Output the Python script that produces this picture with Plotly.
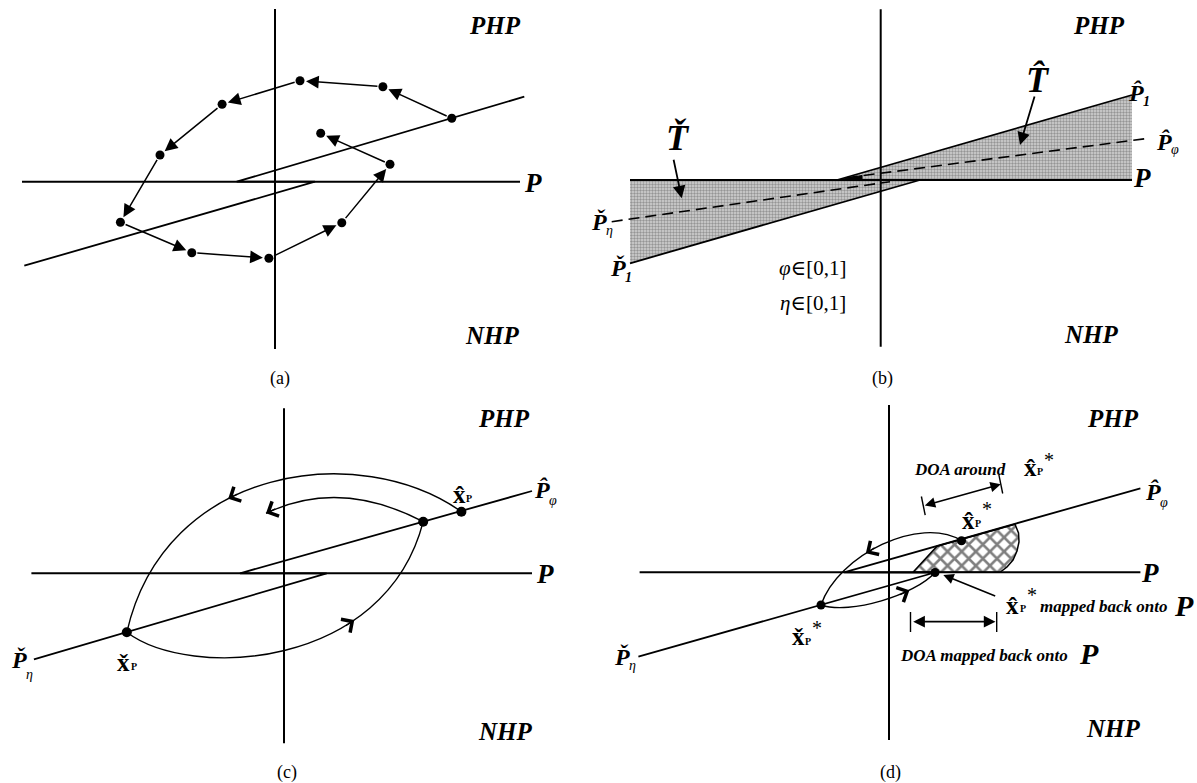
import math
import plotly.graph_objects as go

# ---------------- schematic data (canvas coordinates, y grows downward) ----------------
# Panel (a): phase portrait with a discrete trajectory
a_vaxis_x = [275, 275]; a_vaxis_y = [9, 349]
a_paxis_x = [22, 520]; a_paxis_y = [181.7, 181.7]
a_zline_x = [24.3, 315, 236.7, 524.3]; a_zline_y = [265.7, 181.7, 181.7, 96.7]
a_traj_x = [451.8, 382.9, 300, 222.1, 160, 120.4, 191.8, 268.9, 341.8, 390, 320.7]
a_traj_y = [118.3, 86.7, 80.7, 104.3, 155, 222.3, 252.7, 258.3, 222.7, 164.3, 133.3]

# Panel (b): shaded regions T-check / T-hat
b_vaxis_x = [880.7, 880.7]; b_vaxis_y = [9.3, 346.7]
b_paxis_x = [630, 1132]; b_paxis_y = [180, 180]
b_tchk_x = [630, 630, 920]; b_tchk_y = [180, 263.3, 180]
b_that_x = [837, 1132, 1132]; b_that_y = [180, 95, 180]
b_low_x = [630, 920]; b_low_y = [263.3, 180]
b_up_x = [837, 1132]; b_up_y = [180, 95]
b_eta_x = [611.7, 890]; b_eta_y = [221.7, 181.7]
b_phi_x = [846.7, 1148.3]; b_phi_y = [177.7, 138.3]
b_wedge_x = [838, 862, 862]; b_wedge_y = [180, 175.5, 180]

# Panel (c): orbits between x-check and x-hat (Bezier control points)
c_vaxis_x = [284, 284]; c_vaxis_y = [408.3, 743.3]
c_paxis_x = [31.4, 532]; c_paxis_y = [573.3, 573.3]
c_zline_x = [33.9, 326.7, 240, 532]; c_zline_y = [659.3, 573.3, 573.3, 491]
c_dots_x = [126.8, 423.2, 461.4]; c_dots_y = [632.3, 521.7, 511.7]
c_outer_x = [126.8, 165, 360, 461.4]; c_outer_y = [632.3, 465, 440, 511.7]
c_inner_x = [126.8, 190, 385, 423.2]; c_inner_y = [632.3, 680, 670, 521.7]
c_ret_x = [423.2, 340, 266]; c_ret_y = [521.7, 478, 513.3]

# Panel (d): domain of attraction
d_vaxis_x = [889, 889]; d_vaxis_y = [405, 740]
d_paxis_x = [639.6, 1140.4]; d_paxis_y = [572.3, 572.3]
d_zline_x = [638.4, 935, 844, 1140.4]; d_zline_y = [656.7, 572.5, 572.3, 488.3]
d_dots_x = [821, 961.5, 935]; d_dots_y = [605, 540.7, 572.5]
d_outer_x = [821, 838, 920, 961.5]; d_outer_y = [605, 555, 515, 540.7]
d_inner_x = [821, 850, 915, 935]; d_inner_y = [605, 615, 595, 572.5]
d_doa_x = [913, 937, 1015, 1018.5, 1019, 1017, 1013, 1007, 1000]
d_doa_y = [572.3, 546.2, 524.2, 533, 542, 551, 560, 567, 572.3]
d_around_x = [923.3, 1000.8]; d_around_y = [505.8, 484.2]
d_around_tick1_x = [921.4, 925.2]; d_around_tick1_y = [496.5, 515.1]
d_around_tick2_x = [998.9, 1002.7]; d_around_tick2_y = [474.9, 493.5]
d_mapped_x = [911.7, 995.5]; d_mapped_y = [621.7, 621.7]
d_mapped_tick1_x = [910.5, 910.5]; d_mapped_tick1_y = [612, 632]
d_mapped_tick2_x = [996.7, 996.7]; d_mapped_tick2_y = [612, 632]
d_pointer_x = [996.7, 943.3]; d_pointer_y = [596.7, 575]

FONT = "Liberation Serif, Times New Roman, DejaVu Serif, serif"
HAT, CHECK = "\u0302", "\u030C"

fig = go.Figure()
ann = []
shapes = []


def add_line(xs, ys, w=2.0, dash=None):
    ln = dict(color="black", width=w)
    if dash:
        ln["dash"] = dash
    fig.add_trace(go.Scatter(x=xs, y=ys, mode="lines", line=ln, hoverinfo="skip"))


def add_fill(xs, ys, pattern=None, color="rgba(0,0,0,0)", lw=0.0):
    kw = dict(x=list(xs) + [xs[0]], y=list(ys) + [ys[0]], mode="lines", fill="toself",
              fillcolor=color, line=dict(color="black", width=lw), hoverinfo="skip")
    if pattern:
        kw["fillpattern"] = pattern
    fig.add_trace(go.Scatter(**kw))


def add_dots(xs, ys, size=9):
    fig.add_trace(go.Scatter(x=xs, y=ys, mode="markers",
                             marker=dict(color="black", size=size), hoverinfo="skip"))


def add_curve(xs, ys, w=1.4):
    if len(xs) == 4:
        p = "M{},{} C{},{} {},{} {},{}".format(xs[0], ys[0], xs[1], ys[1], xs[2], ys[2], xs[3], ys[3])
    else:
        p = "M{},{} Q{},{} {},{}".format(xs[0], ys[0], xs[1], ys[1], xs[2], ys[2])
    shapes.append(dict(type="path", path=p, xref="x", yref="y",
                       line=dict(color="black", width=w), fillcolor="rgba(0,0,0,0)"))


def bez(xs, ys, t):
    """point and derivative of the cubic Bezier defined by the control points"""
    u = 1 - t
    b = [u ** 3, 3 * u * u * t, 3 * u * t * t, t ** 3]
    d = [-3 * u * u, 3 * u * u - 6 * u * t, 6 * u * t - 3 * t * t, 3 * t * t]
    px = sum(bi * x for bi, x in zip(b, xs)); py = sum(bi * y for bi, y in zip(b, ys))
    dx = sum(di * x for di, x in zip(d, xs)); dy = sum(di * y for di, y in zip(d, ys))
    return px, py, dx, dy


def arrow(x0, y0, x1, y1, head=2, size=1.5, w=1.5, both=False, s=0, ss=0):
    ann.append(dict(x=x1, y=y1, ax=x0, ay=y0, xref="x", yref="y", axref="x", ayref="y",
                    text="", showarrow=True, arrowhead=head, arrowsize=size, arrowwidth=w,
                    arrowcolor="black", arrowside="end+start" if both else "end",
                    startarrowhead=head, startarrowsize=size, standoff=s, startstandoff=ss))


def chevron_dir(hx, hy, dx, dy, size=2.4, w=1.3, L=12):
    n = math.hypot(dx, dy)
    ux, uy = dx / n, dy / n
    arrow(hx - L * ux, hy - L * uy, hx, hy, head=4, size=size, w=w)


def chevron(xs, ys, t, reverse=False):
    px, py, dx, dy = bez(xs, ys, t)
    if reverse:
        dx, dy = -dx, -dy
    chevron_dir(px, py, dx, dy)


def lab(x, y, s, size, b=False, i=False, xa="center"):
    if i:
        s = "<i>" + s + "</i>"
    if b:
        s = "<b>" + s + "</b>"
    ann.append(dict(x=x, y=y, xref="x", yref="y", text=s, showarrow=False,
                    font=dict(family=FONT, size=size, color="black"),
                    xanchor=xa, yanchor="middle", borderpad=0, borderwidth=0))


def pname(xl, y, mark, sub, sy, sub_bold=False, size=24, subsize=14):
    """bold italic P with a combining accent, followed by its subscript"""
    lab(xl, y, "P" + mark, size, b=True, i=True, xa="left")
    lab(xl + 0.611 * size + 0.8, sy, sub, subsize, b=sub_bold, i=True, xa="left")


def xname(xl, y, mark, with_star=False, size=25, sy=None, stary=None):
    lab(xl, y, "x" + mark, size, b=True, xa="left")
    sx = xl + 0.5 * size + 1.0
    lab(sx, sy, "P", 10, b=True, xa="left")
    if with_star:
        lab(sx + 6.1 + 1.0, stary + 5, "*", 20, xa="left")


# ---------------- panel (a) ----------------
add_line(a_vaxis_x, a_vaxis_y)
add_line(a_paxis_x, a_paxis_y)
add_line(a_zline_x, a_zline_y, w=1.8)
add_dots(a_traj_x, a_traj_y, size=9)
for k in range(len(a_traj_x) - 1):
    arrow(a_traj_x[k], a_traj_y[k], a_traj_x[k + 1], a_traj_y[k + 1],
          head=2, size=1.7, w=1.5, s=6, ss=4)
lab(495, 25, "PHP", 25, b=True, i=True)
lab(492, 335, "NHP", 25, b=True, i=True)
lab(533, 183, "P", 27, b=True, i=True)
lab(280, 378, "(a)", 18)

# ---------------- panel (b) ----------------
stip = dict(shape=".", fgcolor="#555555", bgcolor="#d4d4d4", size=3, solidity=0.5)
add_fill(b_tchk_x, b_tchk_y, pattern=stip)
add_fill(b_that_x, b_that_y, pattern=stip)
add_line(b_vaxis_x, b_vaxis_y)
add_line(b_paxis_x, b_paxis_y)
add_line(b_low_x, b_low_y, w=1.8)
add_line(b_up_x, b_up_y, w=1.8)
add_line(b_eta_x, b_eta_y, w=1.6, dash="11px,6px")
add_line(b_phi_x, b_phi_y, w=1.6, dash="11px,6px")
add_fill(b_wedge_x, b_wedge_y, color="black", lw=1)
arrow(673.3, 158.3, 681.7, 198.3, head=2, size=1.4, w=1.8)
arrow(1035, 95, 1020, 145, head=2, size=1.4, w=1.8)
lab(677.5, 138, "T" + CHECK, 36, b=True, i=True)
lab(1038, 80, "T" + HAT, 36, b=True, i=True)
pname(609.7, 268, CHECK, "1", 277, sub_bold=True)
pname(1127.7, 93, HAT, "1", 101, sub_bold=True)
pname(1155.7, 141.7, HAT, "φ", 149)
pname(590.7, 222, CHECK, "η", 230)
lab(812.5, 268, "<i>φ</i>∈[0,1]", 21)
lab(812.5, 302.5, "<i>η</i>∈[0,1]", 21)
lab(1098.5, 25, "PHP", 25, b=True, i=True)
lab(1091, 334, "NHP", 25, b=True, i=True)
lab(1142, 178, "P", 27, b=True, i=True)
lab(882, 378, "(b)", 18)

# ---------------- panel (c) ----------------
add_line(c_vaxis_x, c_vaxis_y)
add_line(c_paxis_x, c_paxis_y)
add_line(c_zline_x, c_zline_y, w=1.8)
add_curve(c_outer_x, c_outer_y)
add_curve(c_inner_x, c_inner_y)
add_curve(c_ret_x, c_ret_y)
add_dots(c_dots_x, c_dots_y, size=10)
chevron(c_outer_x, c_outer_y, 0.39, reverse=True)
chevron(c_inner_x, c_inner_y, 0.70)
chevron_dir(c_ret_x[2], c_ret_y[2], c_ret_x[2] - c_ret_x[1], c_ret_y[2] - c_ret_y[1])
xname(452.8, 494, HAT, sy=498)
xname(117, 662, CHECK, sy=666)
pname(533.7, 490, HAT, "φ", 500)
pname(10.6, 660, CHECK, "η", 674)
lab(503.6, 418.3, "PHP", 25, b=True, i=True)
lab(505, 731.7, "NHP", 25, b=True, i=True)
lab(544.6, 574, "P", 27, b=True, i=True)
lab(287, 772, "(c)", 18)

# ---------------- panel (d) ----------------
hatch = dict(shape="x", fgcolor="black", bgcolor="white", size=10, solidity=0.45)
add_fill(d_doa_x, d_doa_y, pattern=hatch, lw=1.5)
add_line(d_vaxis_x, d_vaxis_y)
add_line(d_paxis_x, d_paxis_y)
add_line(d_zline_x, d_zline_y, w=1.8)
add_curve(d_outer_x, d_outer_y)
add_curve(d_inner_x, d_inner_y)
add_dots(d_dots_x, d_dots_y, size=9)
chevron(d_outer_x, d_outer_y, 0.40, reverse=True)
chevron(d_inner_x, d_inner_y, 0.72)
add_line(d_around_tick1_x, d_around_tick1_y, w=1.4)
add_line(d_around_tick2_x, d_around_tick2_y, w=1.4)
arrow(d_around_x[0], d_around_y[0], d_around_x[1], d_around_y[1], head=2, size=1.3, w=1.6, both=True)
add_line(d_mapped_tick1_x, d_mapped_tick1_y, w=1.4)
add_line(d_mapped_tick2_x, d_mapped_tick2_y, w=1.4)
arrow(d_mapped_x[0], d_mapped_y[0], d_mapped_x[1], d_mapped_y[1], head=2, size=1.3, w=1.8, both=True)
arrow(d_pointer_x[0], d_pointer_y[0], d_pointer_x[1], d_pointer_y[1], head=2, size=1.3, w=1.6)
pname(1144.7, 492, HAT, "φ", 502)
pname(613.7, 656.7, CHECK, "η", 665)
xname(791.8, 636, CHECK, with_star=True, sy=641.7, stary=623.3)
xname(961.8, 520, HAT, with_star=True, sy=523.3, stary=504)
xname(1023.8, 467, HAT, with_star=True, sy=471.7, stary=455)
xname(1006.3, 605, HAT, with_star=True, sy=608.3, stary=590)
lab(914, 469, "DOA around", 17, b=True, i=True, xa="left")
lab(1040, 606, "mapped back onto", 17, b=True, i=True, xa="left")
lab(1184, 605, "P", 30, b=True, i=True)
lab(900, 655, "DOA mapped back onto", 17, b=True, i=True, xa="left")
lab(1089, 653, "P", 30, b=True, i=True)
lab(1113, 418.3, "PHP", 25, b=True, i=True)
lab(1113, 728.3, "NHP", 25, b=True, i=True)
lab(1150, 573, "P", 27, b=True, i=True)
lab(890, 772, "(d)", 18)

fig.update_layout(
    width=1197, height=783, autosize=False,
    margin=dict(l=0, r=0, t=0, b=0, pad=0),
    paper_bgcolor="white", plot_bgcolor="white",
    showlegend=False,
    xaxis=dict(range=[0, 1197], visible=False, fixedrange=True),
    yaxis=dict(range=[783, 0], visible=False, fixedrange=True),
    annotations=ann,
    shapes=shapes,
)
fig.write_html("out.html")
